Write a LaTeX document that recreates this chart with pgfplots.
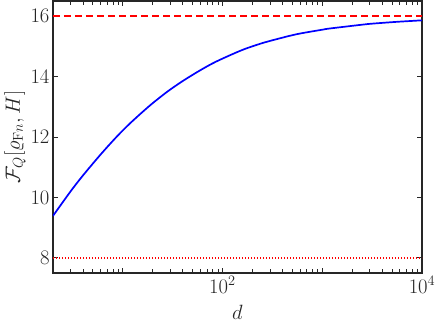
\documentclass[border=0pt]{standalone}
\usepackage{pgfplots}
\pgfplotsset{compat=1.18}
\definecolor{axgray}{RGB}{38,38,38}

\begin{document}
\begin{tikzpicture}
\begin{axis}[
  name=ax,
  scale only axis,
  width=369bp, height=272bp,
  xmode=log,
  xmin=2, xmax=10000,
  ymin=7.5, ymax=16.5,
  xtick={10,100,1000,10000},
  xticklabels={,$10^2$,,$10^4$},
  ytick={8,10,12,14,16},
  minor xtick={3,4,5,6,7,8,9,20,30,40,50,60,70,80,90,200,300,400,500,600,700,800,900,2000,3000,4000,5000,6000,7000,8000,9000},
  tick align=inside,
  major tick length=5bp, minor tick length=4bp,
  axis line style={axgray, line width=1.1pt},
  every tick/.style={axgray, line width=0.8pt},
  tick label style={font=\fontsize{20}{22}\selectfont, text=axgray},
  label style={font=\fontsize{20}{22}\selectfont, text=axgray},
  xlabel={$d$},
  ylabel={$\mathcal{F}_Q\big[\varrho_{\mathrm{F}n},H\big]$},
  xlabel style={yshift=-5bp},
  ylabel style={yshift=-2bp},
  clip=true,
]
\addplot[blue, line width=1.7bp, smooth] coordinates {
  (2,9.39)(3,10.20)(4,10.73)(6,11.42)(8.65,12.00)(12,12.47)(18.7,13.04)
  (28,13.50)(40.3,13.86)(60,14.21)(87,14.50)(158,14.88)(255,15.115)
  (316,15.20)(552,15.40)(1000,15.55)(1190,15.59)(2570,15.72)(3162,15.75)
  (5560,15.81)(10000,15.86)
};
\addplot[red, line width=1.6bp, dash pattern=on 7bp off 4bp] coordinates {(2,16)(10000,16)};
\addplot[red, line width=1.6bp, dash pattern=on 1.5bp off 1.5bp] coordinates {(2,8)(10000,8)};
\end{axis}
\pgfresetboundingbox
\path[use as bounding box] ([xshift=-53bp,yshift=-51bp]ax.south west) rectangle ([xshift=14bp,yshift=1bp]ax.north east);
\end{tikzpicture}
\end{document}
